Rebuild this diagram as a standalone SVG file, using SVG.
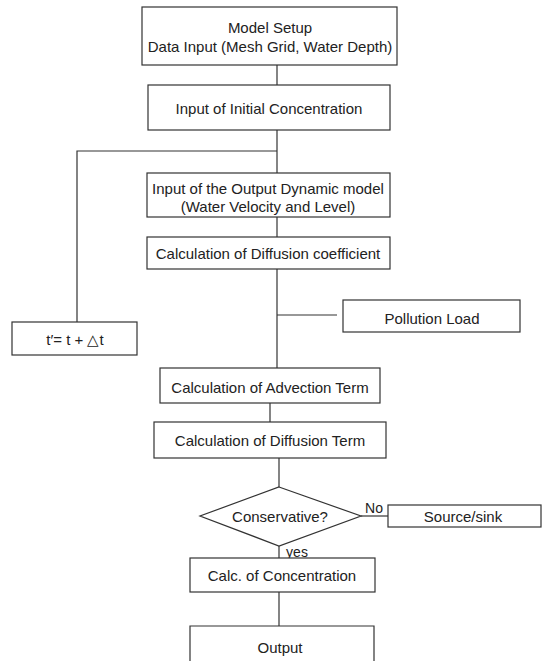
<svg xmlns="http://www.w3.org/2000/svg" width="543" height="661" viewBox="0 0 543 661">
<style>
.box{fill:#fff;stroke:#333;stroke-width:1.2}
.ln{fill:none;stroke:#333;stroke-width:1.2}
text{font-family:"Liberation Sans",Arial,sans-serif;font-size:15px;fill:#222;text-anchor:middle}
.lbl{font-size:14px}
</style>
<rect width="543" height="661" fill="#fff"/>
<g id="connectors">
<path class="ln" d="M277 65 V85"/>
<path class="ln" d="M277 130 V173"/>
<path class="ln" d="M277 151 H77 V322"/>
<path class="ln" d="M277 217 V237"/>
<path class="ln" d="M277 269 V368"/>
<path class="ln" d="M277 315 H337"/>
<path class="ln" d="M270 403 V422"/>
<path class="ln" d="M279 458 V487"/>
<path class="ln" d="M361 516 H388"/>
<path class="ln" d="M279 546 V558"/>
<path class="ln" d="M279 592 V626"/>
<text class="lbl" x="374" y="513">No</text>
<text class="lbl" x="297" y="557">yes</text>
</g>
<g id="n1"><rect class="box" x="142" y="7" width="255" height="58"/><text x="270" y="33">Model Setup</text><text x="270" y="52">Data Input (Mesh Grid, Water Depth)</text></g>
<g id="n2"><rect class="box" x="148" y="85" width="242" height="45"/><text x="269" y="114">Input of Initial Concentration</text></g>
<g id="n3"><rect class="box" x="147" y="173" width="243" height="44"/><text x="268" y="194">Input of the Output Dynamic model</text><text x="268" y="212">(Water Velocity and Level)</text></g>
<g id="n4"><rect class="box" x="147" y="237" width="243" height="32"/><text x="268" y="259">Calculation of Diffusion coefficient</text></g>
<g id="n5"><rect class="box" x="343" y="300" width="177" height="32"/><text x="432" y="324">Pollution Load</text></g>
<g id="n6"><rect class="box" x="12" y="322" width="125" height="33"/><text x="75" y="345">t′= t + △t</text></g>
<g id="n7"><rect class="box" x="160" y="368" width="220" height="35"/><text x="270" y="393">Calculation of Advection Term</text></g>
<g id="n8"><rect class="box" x="154" y="422" width="232" height="36"/><text x="270" y="446">Calculation of Diffusion Term</text></g>
<g id="n9"><polygon class="box" points="279,487 361,516 279,546 200,516"/><text x="280" y="522">Conservative?</text></g>
<g id="n10"><rect class="box" x="388" y="505" width="153" height="22"/><text x="463" y="522">Source/sink</text></g>
<g id="n11"><rect class="box" x="190" y="558" width="185" height="34"/><text x="282" y="581">Calc. of Concentration</text></g>
<g id="n12"><path class="ln" d="M190 661 V626 H374 V661"/><text x="280" y="653">Output</text></g>
</svg>
